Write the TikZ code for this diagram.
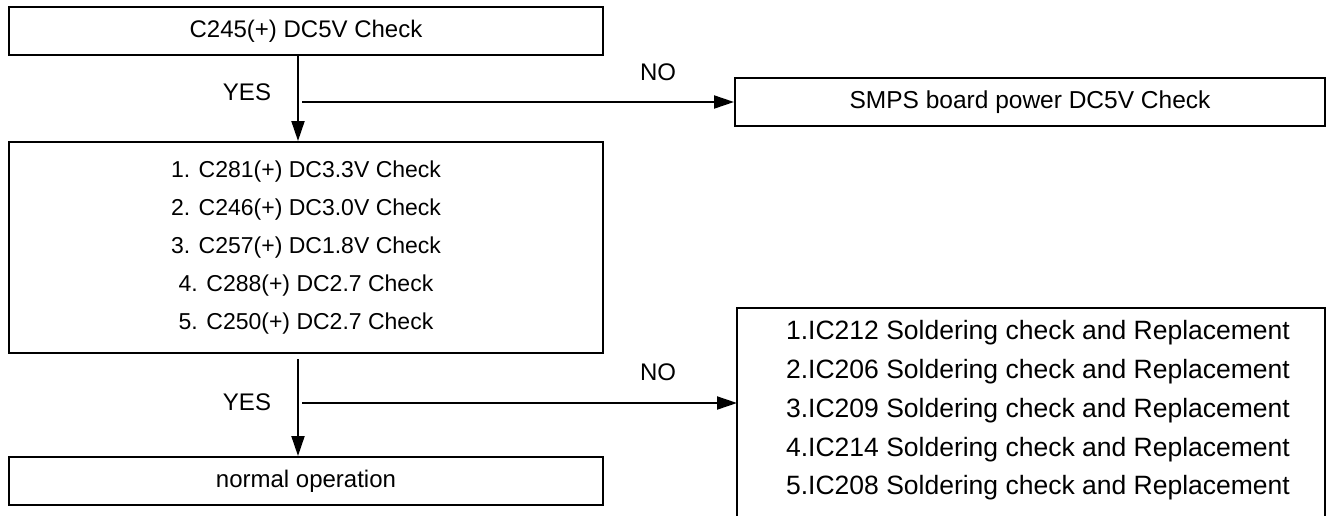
\documentclass[tikz,border=0pt]{standalone}
\usepackage{fontspec}
\setmainfont{Liberation Sans}
\usetikzlibrary{arrows.meta}
\begin{document}
\begin{tikzpicture}[x=1pt,y=-1pt,
  box/.style={draw, line width=2pt, inner sep=0pt, align=center},
  lbl/.style={inner sep=0pt, font=\fontsize{24}{28}\selectfont},
  arr/.style={line width=2pt, -{Triangle[length=20pt,width=13pt]}},
  ]
\useasboundingbox (0,0) rectangle (1329,515);
\clip (0,0) rectangle (1329,515);
\node[box, minimum width=594pt, minimum height=48pt, font=\fontsize{24}{28}\selectfont] (b1) at (306,31) {C245(+) DC5V Check};
\node[box, minimum width=594pt, minimum height=211pt, font=\fontsize{23}{38}\selectfont] (b2) at (306,247.5)
  {1. C281(+) DC3.3V Check\\2. C246(+) DC3.0V Check\\3. C257(+) DC1.8V Check\\4. C288(+) DC2.7 Check\\5. C250(+) DC2.7 Check};
\node[box, minimum width=590pt, minimum height=48pt, font=\fontsize{24.5}{28}\selectfont] (smps) at (1030,102) {SMPS board power DC5V Check};
\node[box, minimum width=594pt, minimum height=48pt, font=\fontsize{24}{28}\selectfont] (norm) at (306,481) {normal operation};
\node[inner sep=0pt, align=center, font=\fontsize{26.5}{38.75}\selectfont] (rt) at (1038,410.5)
  {1.IC212 Soldering check and Replacement\\2.IC206 Soldering check and Replacement\\3.IC209 Soldering check and Replacement\\4.IC214 Soldering check and Replacement\\5.IC208 Soldering check and Replacement};
\draw[line width=2pt] (737,540) -- (737,308) -- (1325,308) -- (1325,540);
\coordinate (j1) at (302,102);
\coordinate (j2) at (302,403);
\coordinate (rl) at (737,403);
\draw[arr] ([xshift=-8pt]b1.south) -- ([xshift=-8pt]b2.north);
\draw[arr] (j1) -- (smps.west);
\draw[arr] ([xshift=-8pt,yshift=-5pt]b2.south) -- ([xshift=-8pt]norm.north);
\draw[arr] (j2) -- (rl);
\node[lbl] (yes1) at (247,92) {YES};
\node[lbl] (no1) at (658,72) {NO};
\node[lbl] (yes2) at (247,402) {YES};
\node[lbl] (no2) at (658,372) {NO};
\end{tikzpicture}
\end{document}
